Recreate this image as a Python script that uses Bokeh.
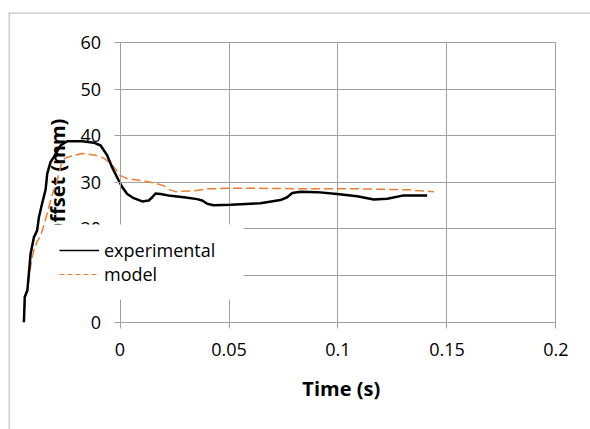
from bokeh.plotting import figure
from bokeh.models import (FixedTicker, Label, Legend, LegendItem, Span, Range1d, BoxAnnotation)
from bokeh.embed import file_html
from bokeh.resources import INLINE
import math

# ---------------- data ----------------
exp_t = [-0.0441, -0.0440, -0.0437, -0.0425, -0.0410, -0.0395, -0.0380, -0.0372,
         -0.0357, -0.0341, -0.0334, -0.0319, -0.0304, -0.0273, -0.0242, -0.0173,
         -0.0120, -0.0089, -0.0059, -0.0036, -0.0021, -0.0006, 0.0010, 0.0033,
         0.0063, 0.0102, 0.0132, 0.0148, 0.0163, 0.0186, 0.0232, 0.0293, 0.0354,
         0.0377, 0.0400, 0.0430, 0.0507, 0.0644, 0.0736, 0.0767, 0.0790, 0.0828,
         0.0905, 0.0996, 0.1088, 0.1164, 0.1226, 0.1302, 0.1409]
exp_v = [0.0, 1.1, 5.4, 6.8, 14.7, 18.2, 19.7, 22.5,
         25.5, 28.5, 31.8, 34.3, 35.4, 37.9, 38.8, 38.8,
         38.5, 37.9, 35.8, 33.2, 31.8, 30.4, 29.0, 27.5,
         26.6, 25.9, 26.1, 26.8, 27.6, 27.5, 27.1, 26.8, 26.4,
         26.1, 25.4, 25.1, 25.2, 25.5, 26.2, 26.8, 27.7, 28.0,
         27.9, 27.5, 27.0, 26.3, 26.5, 27.2, 27.2]

model_t = [-0.0441, -0.0435, -0.0418, -0.0405, -0.0395, -0.0380, -0.0365, -0.0349,
           -0.0333, -0.0310, -0.0288, -0.0265, -0.0242, -0.0173, -0.0112, -0.0074,
           -0.0043, -0.0021, 0.0000, 0.0033, 0.0094, 0.0155, 0.0200, 0.0223,
           0.0254, 0.0338, 0.0400, 0.0538, 0.0875, 0.1100, 0.1333, 0.1356, 0.1440]
model_v = [0.0, 5.0, 9.3, 13.5, 15.5, 17.3, 18.5, 20.8,
           23.5, 27.5, 30.4, 34.7, 35.4, 36.2, 35.8, 35.2,
           34.0, 32.9, 31.5, 30.8, 30.4, 29.9, 29.3, 28.5,
           28.0, 28.2, 28.6, 28.75, 28.6, 28.6, 28.4, 28.25, 28.0]

x_ticks = [0, 0.05, 0.1, 0.15, 0.2]
x_tick_labels = ["0", "0.05", "0.1", "0.15", "0.2"]
y_ticks = [0, 10, 20, 30, 40, 50, 60]
y_tick_labels = ["0", "10", "20", "30", "40", "50", "60"]

series_names = ["experimental", "model"]
x_title = "Time (s)"
y_title = "Offset (mm)"

# ---------------- styling ----------------
FONT = "Open Sans"
GRID = "#a0a0a0"
ORANGE = "#ED7D31"
NAN = float("nan")

W, H = 590, 429
TOP = 12
p = figure(width=W, height=H, output_backend="svg", toolbar_location=None,
           x_range=Range1d(-0.051147, 0.215826), y_range=Range1d(-23.016, 66.43),
           min_border_left=8, min_border_right=0, min_border_top=TOP, min_border_bottom=0)
p.outline_line_color = None
p.background_fill_color = "white"
p.border_fill_color = "white"

# axes crossing at the origin
for ax in p.xaxis:
    ax.fixed_location = 0
    ax.bounds = (0, 0.2)
    ax.ticker = FixedTicker(ticks=x_ticks)
    ax.major_label_overrides = {t: l for t, l in zip(x_ticks, x_tick_labels)}
    ax.major_label_standoff = 15
for ax in p.yaxis:
    ax.fixed_location = 0
    ax.bounds = (0, 60)
    ax.ticker = FixedTicker(ticks=y_ticks)
    ax.major_label_overrides = {t: l for t, l in zip(y_ticks, y_tick_labels)}
    ax.major_label_standoff = 13
for ax in list(p.xaxis) + list(p.yaxis):
    ax.axis_line_color = GRID
    ax.major_tick_line_color = GRID
    ax.major_tick_out = 6
    ax.major_tick_in = 0
    ax.minor_tick_line_color = None
    ax.major_label_text_font = FONT
    ax.major_label_text_font_size = "18px"
    ax.major_label_text_color = "#000000"

p.xgrid.ticker = FixedTicker(ticks=x_ticks)
p.ygrid.ticker = FixedTicker(ticks=y_ticks)
p.xgrid.cross_bounds = (0, 60)
p.ygrid.cross_bounds = (0, 0.2)
p.grid.grid_line_color = GRID
p.grid.grid_line_width = 1

# chart-area border (left and top)
p.add_layout(Span(location=0.5, location_units="screen", dimension="height",
                  line_color=GRID, line_width=1))
p.add_layout(Span(location=H - TOP - 0.5, location_units="screen", dimension="width",
                  line_color=GRID, line_width=1))

# titles
p.add_layout(Label(x=-0.0287, y=30.8, text=y_title, angle=math.pi / 2,
                   text_align="center", text_baseline="middle",
                   text_font=FONT, text_font_style="bold",
                   text_font_size="20px", text_color="#000000", level="underlay"))
p.add_layout(Label(x=0.1015, y=-14.2, text=x_title,
                   text_align="center", text_baseline="middle",
                   text_font=FONT, text_font_style="bold",
                   text_font_size="20px", text_color="#000000"))

# data
p.line(model_t, model_v, line_color=ORANGE, line_width=1.5, line_dash="9 4")
p.line(exp_t, exp_v, line_color="black", line_width=2.5)

# white legend panel (covers axis labels / gridlines like the reference)
p.add_layout(BoxAnnotation(left=42, right=235, bottom=130, top=205,
                           left_units="screen", right_units="screen",
                           bottom_units="screen", top_units="screen",
                           fill_color="white", fill_alpha=1.0, line_color=None))

# legend samples (no visible data, thinner strokes as in the reference legend)
leg_exp = p.line(x=[NAN], y=[NAN], line_color="black", line_width=1.3)
leg_mod = p.line(x=[NAN], y=[NAN], line_color=ORANGE, line_width=1, line_dash="5 3")

legend = Legend(items=[LegendItem(label=series_names[0], renderers=[leg_exp]),
                       LegendItem(label=series_names[1], renderers=[leg_mod])],
                location=(51, 143), padding=13, spacing=0,
                glyph_width=40, glyph_height=24, label_height=24,
                label_width=122, label_standoff=5,
                background_fill_color="white", background_fill_alpha=1.0,
                border_line_color=None,
                label_text_font=FONT, label_text_font_size="18px",
                label_text_color="#000000")
p.add_layout(legend, "center")

open("out.html", "w").write(file_html(p, INLINE))
